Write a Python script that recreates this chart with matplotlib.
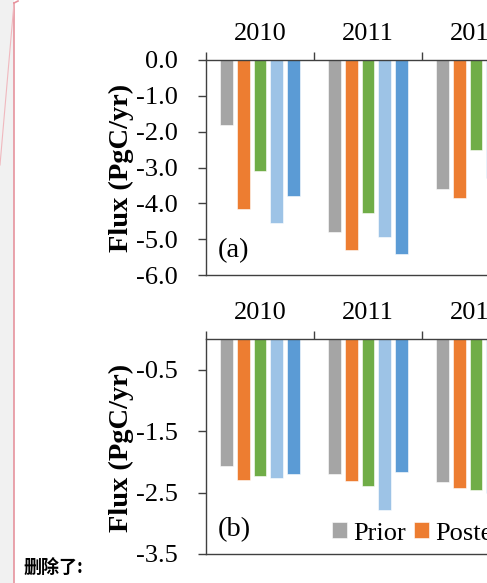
import matplotlib
matplotlib.use("Agg")
import matplotlib.pyplot as plt
from matplotlib.lines import Line2D
from matplotlib.patches import Rectangle
import numpy as np

plt.rcParams['font.family'] = ['Liberation Serif', 'DejaVu Serif']
plt.rcParams['axes.unicode_minus'] = False

# data (2012 blue bars are cut off in the reference, guessed)
years = ['2010', '2011', '2012']
series = ['Prior', 'Posterior', 'In situ', 'GOSAT', 'In situ+GOSAT']
colors = ['#A5A5A5', '#ED7D31', '#70AD47', '#9DC3E6', '#5B9BD5']

prior_a = [-1.82, -4.80, -3.60]
post_a = [-4.15, -5.30, -3.85]
insitu_a = [-3.10, -4.27, -2.50]
gosat_a = [-4.55, -4.93, -3.30]
both_a = [-3.80, -5.42, -3.20]

prior_b = [-2.07, -2.20, -2.33]
post_b = [-2.30, -2.31, -2.43]
insitu_b = [-2.23, -2.40, -2.45]
gosat_b = [-2.26, -2.79, -2.50]
both_b = [-2.19, -2.17, -2.40]

yticks_a = [0.0, -1.0, -2.0, -3.0, -4.0, -5.0, -6.0]
yticks_b = [-0.5, -1.5, -2.5, -3.5]

W, H = 487, 583
fig = plt.figure(figsize=(W / 100, H / 100), dpi=100)

# left margin of the page (grey strip + comment balloon border)
fig.patches.append(Rectangle((0, 0), 14 / W, 1, transform=fig.transFigure,
                             facecolor='#f1f1f1', edgecolor='none', zorder=0))
fig.lines.append(Line2D([14 / W, 14 / W], [0, 1 - 3 / H], transform=fig.transFigure,
                        color='#e6939d', lw=1.2))
fig.lines.append(Line2D([14 / W, 0], [1 - 3 / H, 1 - 165 / H], transform=fig.transFigure,
                        color='#f0b8be', lw=0.8))
fig.lines.append(Line2D([14 / W, 18 / W], [1 - 3 / H, 1 - 1 / H], transform=fig.transFigure,
                        color='#e6939d', lw=1.2))

FS = 19


def panel(ax, vals, ylim, yticks, tag, legend=False):
    n = len(years)
    step = 0.1543
    width = 0.12
    for j, v in enumerate(vals):
        x = np.arange(n) + 0.5 + (j - 2) * step
        ax.bar(x, v, width=width, color=colors[j], edgecolor='white',
               linewidth=0.4, label=series[j], zorder=2)
    ax.set_xlim(0, n)
    ax.set_ylim(*ylim)
    ax.set_yticks(yticks)
    ax.set_yticklabels(['%.1f' % t for t in yticks])
    ax.xaxis.tick_top()
    ax.set_xticks(np.arange(n + 1))
    ax.set_xticklabels([])
    ax.set_xticks(np.arange(n) + 0.5, minor=True)
    ax.set_xticklabels(years, minor=True)
    ax.tick_params(axis='x', which='major', direction='out', length=6, width=1,
                   color='#404040')
    ax.tick_params(axis='x', which='minor', length=0, pad=11, labelsize=FS)
    ax.tick_params(axis='y', direction='out', length=6, width=1, pad=14,
                   labelsize=FS, color='#404040')
    ax.spines['right'].set_visible(False)
    for s in ['left', 'top', 'bottom']:
        ax.spines[s].set_color('#404040')
        ax.spines[s].set_linewidth(1)
    ax.text(0.037, 0.114, tag, transform=ax.transAxes, fontsize=20.5,
            ha='left', va='center')
    if legend:
        ax.legend(loc='center left', bbox_to_anchor=(0.39, 0.095), ncol=5,
                  frameon=False, fontsize=FS, handlelength=0.55, handleheight=0.55,
                  handletextpad=0.25, columnspacing=0.3, borderaxespad=0,
                  borderpad=0)


left = 206 / W
width = 324 / W
hgt = 215 / H
ax1 = fig.add_axes([left, 1 - 275 / H, width, hgt])
ax2 = fig.add_axes([left, 1 - 554 / H, width, hgt])

panel(ax1, [prior_a, post_a, insitu_a, gosat_a, both_a], (-6, 0), yticks_a, '(a)')
panel(ax2, [prior_b, post_b, insitu_b, gosat_b, both_b], (-3.5, 0), yticks_b, '(b)',
      legend=True)

for yc in [168, 448]:
    fig.text(121 / W, 1 - yc / H, 'Flux (PgC/yr)', rotation=90, ha='center',
             va='center', fontsize=20.5, fontweight='bold')

fig.text(23 / W, 1 - 568 / H, '删除了:', family=['Noto Sans CJK SC', 'DejaVu Sans'],
         fontsize=13, fontweight='bold', ha='left', va='center')

fig.savefig('out.png', dpi=100)
